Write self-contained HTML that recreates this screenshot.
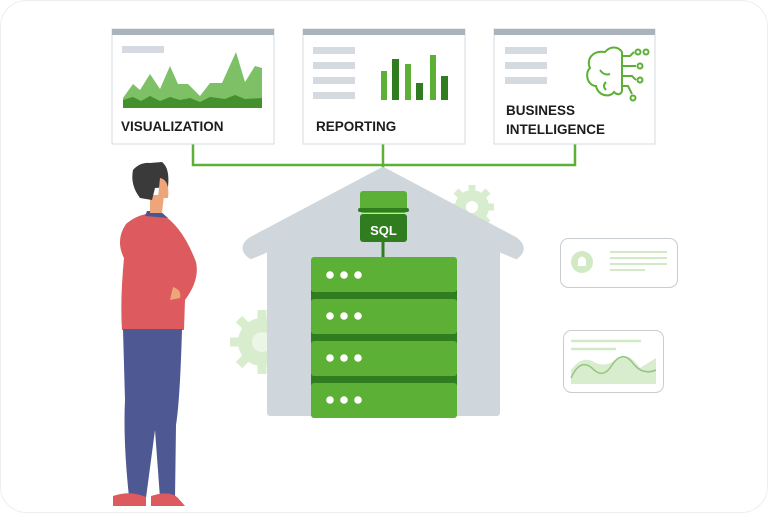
<!DOCTYPE html>
<html><head><meta charset="utf-8"><style>
html,body{margin:0;padding:0;background:#fff;}
svg{display:block;}
text{font-family:"Liberation Sans",sans-serif;font-weight:bold;}
</style></head><body>
<svg width="768" height="513" viewBox="0 0 768 513" xmlns="http://www.w3.org/2000/svg">
<rect x="0.5" y="0.5" width="767" height="512" rx="26" fill="#fff" stroke="#eceff1"/>
<!-- connectors -->
<path d="M193 144 V165 H575 V144 M383 144 V192" fill="none" stroke="#5cb035" stroke-width="2.5"/>
<!-- cards -->
<g>
<rect x="112" y="29" width="162" height="115" fill="#fff" stroke="#d5dbe0"/>
<rect x="112" y="29" width="162" height="6" fill="#a9b3bb"/>
<rect x="122" y="46" width="42" height="7" fill="#d4dadf"/>
<path d="M123 103 L123 98 L133 84 L140 90 L150 74 L160 89 L170 66 L178 84 L188 84 L200 96 L210 83 L222 83 L236 52 L245 82 L255 66 L262 68 L262 108 L123 108Z" fill="#7dc066"/>
<path d="M123 108 L123 100 L133 97 L141 101 L150 96 L160 101 L170 97 L180 100 L190 98 L200 102 L210 97 L225 99 L235 95 L245 99 L262 98 L262 108Z" fill="#43902c"/>
<text x="121" y="131" font-size="13.5" fill="#1c1c1c">VISUALIZATION</text>
</g>
<g>
<rect x="303" y="29" width="162" height="115" fill="#fff" stroke="#d5dbe0"/>
<rect x="303" y="29" width="162" height="6" fill="#a9b3bb"/>
<rect x="313" y="47" width="42" height="7" fill="#d4dadf"/>
<rect x="313" y="62" width="42" height="7" fill="#d4dadf"/>
<rect x="313" y="77" width="42" height="7" fill="#d4dadf"/>
<rect x="313" y="92" width="42" height="7" fill="#d4dadf"/>
<rect x="381" y="71" width="6" height="29" fill="#5cb035"/>
<rect x="392" y="59" width="7" height="41" fill="#2f7d1f"/>
<rect x="405" y="64" width="6" height="36" fill="#5cb035"/>
<rect x="416" y="83" width="7" height="17" fill="#2f7d1f"/>
<rect x="430" y="55" width="6" height="45" fill="#5cb035"/>
<rect x="441" y="76" width="7" height="24" fill="#2f7d1f"/>
<text x="316" y="131" font-size="13.5" fill="#1c1c1c">REPORTING</text>
</g>
<g>
<rect x="494" y="29" width="161" height="115" fill="#fff" stroke="#d5dbe0"/>
<rect x="494" y="29" width="161" height="6" fill="#a9b3bb"/>
<rect x="505" y="47" width="42" height="7" fill="#d4dadf"/>
<rect x="505" y="62" width="42" height="7" fill="#d4dadf"/>
<rect x="505" y="77" width="42" height="7" fill="#d4dadf"/>
<g fill="none" stroke="#5cb035" stroke-width="2">
<path d="M605 52 C592 50 586 60 590 68 C584 74 588 86 596 86 C598 96 610 98 614 92 C618 96 622 94 622 90 L622 52 C618 46 610 46 605 52Z"/>
<path d="M622 56 H630 L634 52 M622 66 H636 M622 76 H632 L636 80 M622 86 H628 L632 94"/>
<circle cx="638" cy="52" r="2.5"/><circle cx="646" cy="52" r="2.5"/><circle cx="640" cy="66" r="2.5"/><circle cx="640" cy="80" r="2.5"/><circle cx="633" cy="98" r="2.5"/>
<path d="M600 70 Q604 76 610 74 M606 82 Q602 86 606 90"/>
</g>
<text x="506" y="115" font-size="13.5" fill="#1c1c1c">BUSINESS</text>
<text x="506" y="134" font-size="13.5" fill="#1c1c1c">INTELLIGENCE</text>
</g>
<!-- gears -->
<g fill="#d8ecce">
<circle cx="472" cy="207" r="17"/>
<g stroke="#d8ecce" stroke-width="7"><path d="M472 185 V229 M450 207 H494 M456 191 L488 223 M488 191 L456 223"/></g>
<circle cx="262" cy="342" r="24"/>
<g stroke="#d8ecce" stroke-width="9"><path d="M262 310 V374 M230 342 H294 M239 319 L285 365 M285 319 L239 365"/></g>
</g>
<circle cx="472" cy="207" r="6" fill="#fff"/>
<circle cx="262" cy="342" r="10" fill="#ecf6e6"/>
<!-- house -->
<path d="M383 170 L515 240 Q526 248 516 256 L497 248 L497 413 L270 413 L270 248 L251 256 Q240 248 251 240 Z" fill="#cfd6dc" stroke="#cfd6dc" stroke-width="6" stroke-linejoin="round"/>
<!-- plug -->
<rect x="360" y="191" width="47" height="22" rx="3" fill="#5cb035"/>
<rect x="358" y="208" width="51" height="4" rx="2" fill="#2f7d1f"/>
<rect x="360" y="214" width="47" height="28" rx="3" fill="#2f7d1f"/>
<text x="383.5" y="235" font-size="13" fill="#fff" text-anchor="middle">SQL</text>
<path d="M383 242 V258" stroke="#2f7d1f" stroke-width="3"/>
<!-- server -->
<rect x="311" y="290" width="146" height="100" fill="#2f7d1f"/>
<g fill="#5cb035">
<rect x="311" y="257" width="146" height="35" rx="3"/>
<rect x="311" y="299" width="146" height="35" rx="3"/>
<rect x="311" y="341" width="146" height="35" rx="3"/>
<rect x="311" y="383" width="146" height="35" rx="3"/>
</g>
<g fill="#fff">
<circle cx="330" cy="275" r="3.8"/><circle cx="344" cy="275" r="3.8"/><circle cx="358" cy="275" r="3.8"/>
<circle cx="330" cy="316" r="3.8"/><circle cx="344" cy="316" r="3.8"/><circle cx="358" cy="316" r="3.8"/>
<circle cx="330" cy="358" r="3.8"/><circle cx="344" cy="358" r="3.8"/><circle cx="358" cy="358" r="3.8"/>
<circle cx="330" cy="400" r="3.8"/><circle cx="344" cy="400" r="3.8"/><circle cx="358" cy="400" r="3.8"/>
</g>
<!-- notification card -->
<rect x="560.5" y="238.5" width="117" height="49" rx="8" fill="#fff" stroke="#c8cdd1"/>
<circle cx="582" cy="262" r="11" fill="#d2e9c6"/>
<path d="M578 266 V260 Q582 253 586 260 V266 Z" fill="#fff"/>
<g stroke="#d2e9c6" stroke-width="2"><path d="M610 252 H667 M610 258 H667 M610 264 H667 M610 270 H645"/></g>
<!-- chart card -->
<rect x="563.5" y="330.5" width="100" height="62" rx="8" fill="#fff" stroke="#c8cdd1"/>
<path d="M571 341 H641 M571 349 H616" stroke="#d2e9c6" stroke-width="2.5"/>
<path d="M571 370 Q582 355 594 362 Q605 368 615 360 Q628 350 640 368 L656 358 L656 384 L571 384Z" fill="#d8ecce"/>
<path d="M571 378 Q580 358 592 368 Q603 380 612 365 Q622 350 632 362 Q642 376 656 370" fill="none" stroke="#94c67f" stroke-width="1.5"/>
<!-- person -->
<g>
<path d="M122 330 Q120 300 124 258 Q115 240 126 224 Q140 212 160 213 Q182 225 196 262 Q200 280 185 300 L184 330 Z" fill="#dd5b5e"/>
<path d="M173 287 Q182 290 180 298 L170 300 Z" fill="#efa57a"/>
<path d="M147 211 L160 211 L168 218 L145 216Z" fill="#4c5691"/>
<path d="M150 195 L164 195 L162 213 L150 213Z" fill="#efa57a"/>
<path d="M150 163 Q140 162 133 170 Q130 185 140 198 L152 200 L155 188 L168 187 Q170 168 162 162 Z" fill="#3a3a3a"/>
<path d="M160 178 Q170 180 168 198 L158 198 Z" fill="#efa57a"/>
<path d="M123 329 L182 329 Q180 400 176 425 L175 498 L160 498 L155 430 L146 498 L129 497 Q123 440 125 400 Z" fill="#4e5893"/>
<path d="M113 496 Q130 490 146 497 L146 506 L113 506Z" fill="#dd5b5e"/>
<path d="M151 496 Q170 490 178 498 L185 506 L151 506Z" fill="#dd5b5e"/>
</g>
</svg>
</body></html>
